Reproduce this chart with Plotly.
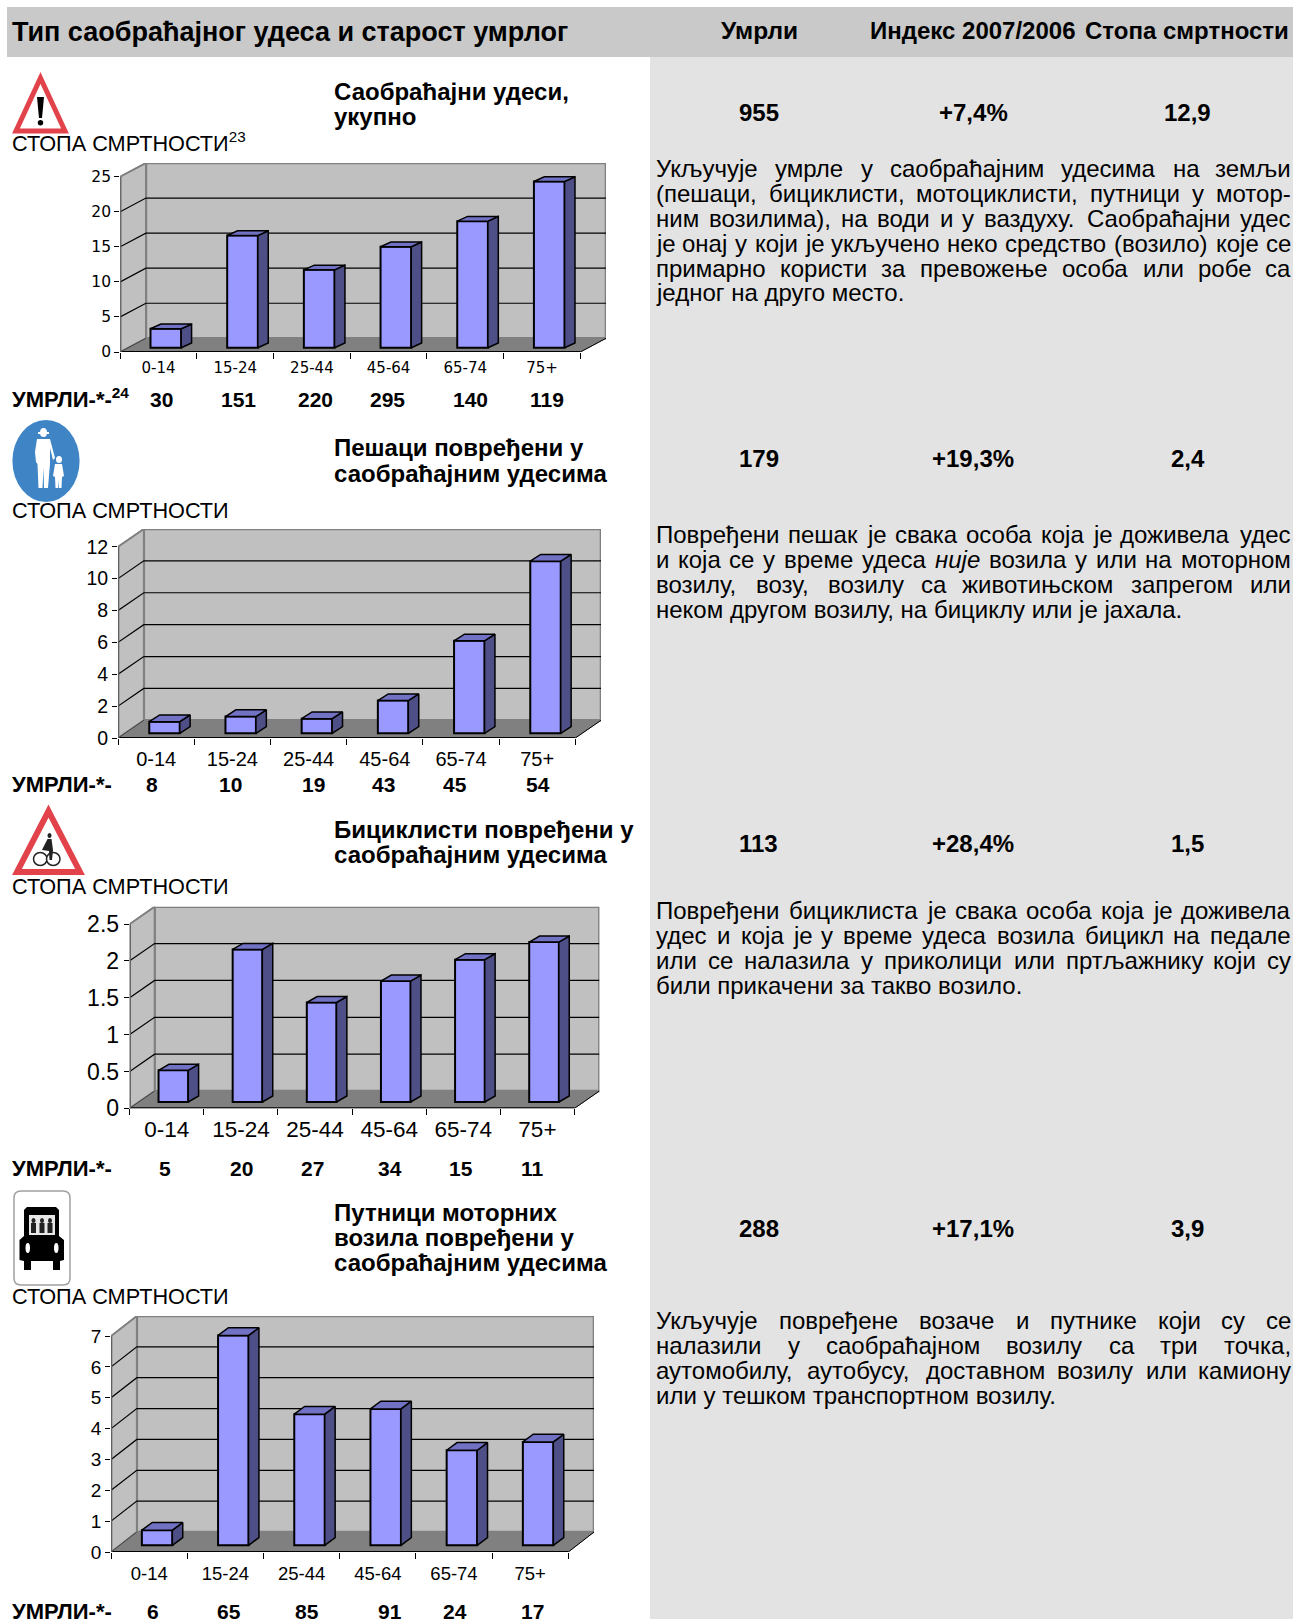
import plotly.graph_objects as go

W, H = 1293, 1619
FONT = "Liberation Sans"

AGE_GROUPS = ["0-14", "15-24", "25-44", "45-64", "65-74", "75+"]

RATE_TOTAL = [2.7, 16.0, 11.1, 14.4, 18.05, 23.7]
RATE_PEDESTRIANS = [0.73, 1.05, 0.92, 2.05, 5.8, 10.8]
RATE_CYCLISTS = [0.43, 2.07, 1.35, 1.64, 1.93, 2.17]
RATE_PASSENGERS = [0.49, 6.8, 4.25, 4.42, 3.08, 3.35]

DEATHS_TOTAL = ["30", "151", "220", "295", "140", "119"]
DEATHS_PEDESTRIANS = ["8", "10", "19", "43", "45", "54"]
DEATHS_CYCLISTS = ["5", "20", "27", "34", "15", "11"]
DEATHS_PASSENGERS = ["6", "65", "85", "91", "24", "17"]

TICKS_TOTAL = [0, 5, 10, 15, 20, 25]
TICKS_PEDESTRIANS = [0, 2, 4, 6, 8, 10, 12]
TICKS_CYCLISTS = [0, 0.5, 1, 1.5, 2, 2.5]
TICKS_PASSENGERS = [0, 1, 2, 3, 4, 5, 6, 7]

TICKTEXT_CYCLISTS = ["0", "0.5", "1", "1.5", "2", "2.5"]

SUMMARY_DEATHS = ["955", "179", "113", "288"]
SUMMARY_INDEX = ["+7,4%", "+19,3%", "+28,4%", "+17,1%"]
SUMMARY_RATE = ["12,9", "2,4", "1,5", "3,9"]

SECTION_TITLES = [
    ["Саобраћајни удеси,", "укупно"],
    ["Пешаци повређени у", "саобраћајним удесима"],
    ["Бициклисти повређени у", "саобраћајним удесима"],
    ["Путници моторних", "возила повређени у", "саобраћајним удесима"],
]

BODY_TEXT = [
    ["Укључује умрле у саобраћајним удесима на земљи",
     "(пешаци, бициклисти, мотоциклисти, путници у мотор-",
     "ним возилима), на води и у ваздуху. Саобраћајни удес",
     "је онај у који је укључено неко средство (возило) које се",
     "примарно користи за превожење особа или робе са",
     "једног на друго место."],
    ["Повређени пешак је свака особа која је доживела удес",
     "и која се у време удеса <i>није</i> возила у или на моторном",
     "возилу, возу, возилу са животињском запрегом или",
     "неком другом возилу, на бициклу или је јахала."],
    ["Повређени бициклиста је свака особа која је доживела",
     "удес и која је у време удеса возила бицикл на педале",
     "или се налазила у приколици или пртљажнику који су",
     "били прикачени за такво возило."],
    ["Укључује повређене возаче и путнике који су се",
     "налазили у саобраћајном возилу са три точка,",
     "аутомобилу, аутобусу, доставном возилу или камиону",
     "или у тешком транспортном возилу."],
]

# ---- layout of the page, in pixels -----------------------------------------
CHARTS = [
    dict(rates=RATE_TOTAL, ticks=TICKS_TOTAL, ticktext=None, ymax=25,
         L=120.2, R=580.3, y0=352, ytop=176.7, dx=25.7, dy=13.7,
         bdx=7.3, bdy=4.3, sdx=10.4, sdy=4.7,
         xfont=("DejaVu Sans", 15), yfont=("DejaVu Sans", 15.5), standoff=5),
    dict(rates=RATE_PEDESTRIANS, ticks=TICKS_PEDESTRIANS, ticktext=None, ymax=12,
         L=118.1, R=575.3, y0=738, ytop=546.7, dx=25.7, dy=17.7,
         bdx=8.3, bdy=4.7, sdx=10.4, sdy=6.7,
         xfont=(FONT, 20), yfont=(FONT, 19.5), standoff=7),
    dict(rates=RATE_CYCLISTS, ticks=TICKS_CYCLISTS, ticktext=TICKTEXT_CYCLISTS, ymax=2.5,
         L=129.7, R=574.5, y0=1108.3, ytop=924, dx=24.9, dy=17.3,
         bdx=6.6, bdy=6.3, sdx=10.4, sdy=6.0,
         xfont=(FONT, 22.5), yfont=(FONT, 23), standoff=5),
    dict(rates=RATE_PASSENGERS, ticks=TICKS_PASSENGERS, ticktext=None, ymax=7,
         L=111.1, R=568.3, y0=1552, ytop=1336, dx=25.7, dy=20,
         bdx=7.9, bdy=6.7, sdx=10.4, sdy=7.7,
         xfont=(FONT, 18.5), yfont=(FONT, 19), standoff=8),
]

ROWS = [
    dict(title_y=[92, 117], rate_y=141.5,
         body_y=168, summary_y=112.5, deaths_y=399.6, deaths=DEATHS_TOTAL,
         deaths_x=[161, 238, 315, 387, 470, 547]),
    dict(title_y=[448, 473], rate_y=510,
         body_y=534.5, summary_y=458.5, deaths_y=784.5, deaths=DEATHS_PEDESTRIANS,
         deaths_x=[152, 230, 313, 383, 455, 538]),
    dict(title_y=[829, 854], rate_y=886,
         body_y=910.5, summary_y=843.7, deaths_y=1168, deaths=DEATHS_CYCLISTS,
         deaths_x=[164.6, 241, 312, 390, 461, 532]),
    dict(title_y=[1212, 1237, 1262], rate_y=1296,
         body_y=1320.5, summary_y=1228, deaths_y=1611, deaths=DEATHS_PASSENGERS,
         deaths_x=[152.5, 229, 307, 390, 455, 532]),
]

C_FRONT, C_SIDE, C_TOP = "#9999FF", "#4F4F88", "#7272C4"
C_WALL, C_FLOOR, C_EDGE = "#C0C0C0", "#808080", "#808080"
BODY_SIZE = 24
BAR_W = 0.40


def px(x):
    return x / W


def py(y):
    return 1 - y / H


def ppath(points, close=True):
    s = "M " + " L ".join(f"{px(x):.5f},{py(y):.5f}" for x, y in points)
    return s + (" Z" if close else "")


shapes, annotations, traces = [], [], []
layout_axes = {}


def paper_rect(x0, y0, x1, y1, color, line=None, lw=0):
    shapes.append(dict(type="rect", xref="paper", yref="paper", x0=px(x0), x1=px(x1),
                       y0=py(y0), y1=py(y1), fillcolor=color, layer="below",
                       line=dict(color=line or color, width=lw)))


def paper_poly(points, fill, line=None, lw=0, layer="below"):
    shapes.append(dict(type="path", xref="paper", yref="paper", path=ppath(points),
                       fillcolor=fill, layer=layer,
                       line=dict(color=line or fill, width=lw)))


def paper_ellipse(x0, y0, x1, y1, fill, line=None, lw=0):
    shapes.append(dict(type="circle", xref="paper", yref="paper", x0=px(x0), x1=px(x1),
                       y0=py(y0), y1=py(y1), fillcolor=fill, layer="below",
                       line=dict(color=line or fill, width=lw)))


def text(x, y, s, size, bold=False, anchor="left", family=FONT):
    annotations.append(dict(
        xref="paper", yref="paper", x=px(x), y=py(y), text=f"<b>{s}</b>" if bold else s,
        showarrow=False, xanchor=anchor, yanchor="middle", borderpad=0, borderwidth=0,
        font=dict(family=family, size=size, color="black"), align=anchor))


# ---- panels ---------------------------------------------------------------
paper_rect(650, 57, W, H, "#E3E3E3")
paper_rect(7, 7, W, 57, "#C9C9C9")

text(12, 32, "Тип саобраћајног удеса и старост умрлог", 27, True)
text(759, 31, "Умрли", 24.5, True, "center")
text(973, 31, "Индекс 2007/2006", 24, True, "center")
text(1187, 31, "Стопа смртности", 24, True, "center")

# ---- justified body text ---------------------------------------------------
WIDTHS = {
    "а": 556, "б": 573, "в": 531, "г": 365, "д": 583, "е": 556, "ж": 669, "з": 458,
    "и": 559, "ј": 222, "к": 438, "л": 583, "љ": 862, "м": 688, "н": 552, "њ": 828,
    "о": 556, "п": 544, "р": 556, "с": 500, "т": 458, "ћ": 556, "у": 500, "ф": 822,
    "х": 500, "ц": 573, "ч": 521, "џ": 544, "ш": 802, "ђ": 556,
    "У": 667, "П": 718, "(": 333, ")": 333, ",": 278, ".": 278, "-": 333, "С": 722,
}


def measure(word, size):
    plain = word.replace("<i>", "").replace("</i>", "")
    return sum(WIDTHS.get(c, 556) for c in plain) * size / 1000


BODY_L, BODY_R = 656, 1291
for row, block in zip(ROWS, BODY_TEXT):
    for k, line in enumerate(block):
        y = row["body_y"] + 25 * k
        words = line.split(" ")
        if k == len(block) - 1:
            text(BODY_L, y, line, BODY_SIZE)
            continue
        total = sum(measure(w, BODY_SIZE) for w in words)
        gap = (BODY_R - BODY_L - total) / (len(words) - 1)
        x = BODY_L
        for j, w in enumerate(words):
            if j == len(words) - 1:
                text(BODY_R, y, w, BODY_SIZE, anchor="right")
            else:
                text(x, y, w, BODY_SIZE)
            x += measure(w, BODY_SIZE) + gap

# ---- rows: titles, summaries, deaths ---------------------------------------
for i, row in enumerate(ROWS):
    for yy, t in zip(row["title_y"], SECTION_TITLES[i]):
        text(334, yy, t, 24, True)
    text(758.7, row["summary_y"], SUMMARY_DEATHS[i], 24, True, "center")
    text(973, row["summary_y"], SUMMARY_INDEX[i], 24, True, "center")
    text(1187.5, row["summary_y"], SUMMARY_RATE[i], 24, True, "center")
    sup = "<sup>23</sup>" if i == 0 else ""
    text(12.4, row["rate_y"], "СТОПА СМРТНОСТИ" + sup, 21.7)
    sup = "<sup>24</sup>" if i == 0 else ""
    text(12.4, row["deaths_y"] - (2 if i == 0 else 0), "УМРЛИ-*-" + sup, 22, True)
    for xx, d in zip(row["deaths_x"], row["deaths"]):
        text(xx, row["deaths_y"], d, 21, True, "center")

# ---- charts ----------------------------------------------------------------
for n, c in enumerate(CHARTS):
    suffix = "" if n == 0 else str(n + 1)
    xid, yid = "x" + suffix, "y" + suffix
    cell = (c["R"] - c["L"]) / 6
    unit = (c["y0"] - c["ytop"]) / c["ymax"]
    D, Dy = c["dx"] / cell, c["dy"] / unit
    bx, by = c["bdx"] / cell, c["bdy"] / unit
    sx, sy = c["sdx"] / cell, c["sdy"] / unit
    x_lo, x_hi = -0.5, 5.5
    ymax = c["ymax"]
    y_hi = ymax + Dy

    def dshape(points, fill=None, color=None, width=0, close=True):
        path = "M " + " L ".join(f"{x:.4f},{y:.4f}" for x, y in points) + (" Z" if close else "")
        d = dict(type="path", xref=xid, yref=yid, path=path, layer="below",
                 line=dict(color=color or "rgba(0,0,0,0)", width=width))
        if fill:
            d["fillcolor"] = fill
        shapes.append(d)

    # walls and floor
    dshape([(x_lo + D, Dy), (x_hi + D, Dy), (x_hi + D, y_hi), (x_lo + D, y_hi)],
           C_WALL, C_EDGE, 2.6)
    dshape([(x_lo, 0), (x_lo + D, Dy), (x_lo + D, y_hi), (x_lo, ymax)], C_WALL, C_EDGE, 1.8)
    dshape([(x_lo, 0), (x_lo + D, Dy), (x_hi + D, Dy), (x_hi, 0)], C_FLOOR, C_FLOOR, 1)
    for t in c["ticks"][1:-1]:
        dshape([(x_lo, t), (x_lo + D, t + Dy), (x_hi + D, t + Dy)], None, "#000000", 1.2, False)
    dshape([(x_lo, 0), (x_hi, 0)], None, "#000000", 2, False)
    dshape([(x_hi, 0), (x_hi + D, Dy)], None, "#000000", 1, False)
    dshape([(x_lo, 0), (x_lo + D, Dy)], None, "#404040", 1, False)
    dshape([(x_lo, 0), (x_lo, ymax)], None, "#606060", 2.4, False)
    dshape([(x_lo, ymax), (x_lo + D, y_hi)], None, C_EDGE, 1.5, False)

    # front faces
    traces.append(go.Bar(
        x=[i + bx for i in range(6)], y=c["rates"], base=by, width=BAR_W,
        marker=dict(color=C_FRONT, line=dict(color="black", width=2)),
        xaxis=xid, yaxis=yid, showlegend=False, hoverinfo="skip"))

    # side and top faces follow the same values
    sx_pts, sy_pts, tx_pts, ty_pts = [], [], [], []
    for i, v in enumerate(c["rates"]):
        xl, xr = i + bx - BAR_W / 2, i + bx + BAR_W / 2
        sx_pts += [xr, xr + sx, xr + sx, xr, xr, None]
        sy_pts += [by, by + sy, by + v + sy, by + v, by, None]
        tx_pts += [xl, xl + sx, xr + sx, xr, xl, None]
        ty_pts += [by + v, by + v + sy, by + v + sy, by + v, by + v, None]
    traces.append(go.Scatter(x=sx_pts, y=sy_pts, mode="lines", fill="toself", fillcolor=C_SIDE,
                             line=dict(color="black", width=1.5), xaxis=xid, yaxis=yid,
                             showlegend=False, hoverinfo="skip"))
    traces.append(go.Scatter(x=tx_pts, y=ty_pts, mode="lines", fill="toself", fillcolor=C_TOP,
                             line=dict(color="black", width=1.5), xaxis=xid, yaxis=yid,
                             showlegend=False, hoverinfo="skip"))

    layout_axes["xaxis" + suffix] = dict(
        domain=[px(c["L"]), px(c["R"] + c["dx"])], range=[x_lo, x_hi + D], anchor=yid,
        tickmode="array", tickvals=list(range(6)), ticktext=AGE_GROUPS, ticks="",
        ticklabelstandoff=c["standoff"], showgrid=False, zeroline=False, showline=False,
        tickfont=dict(family=c["xfont"][0], size=c["xfont"][1], color="black"),
        minor=dict(tickmode="array", tickvals=[x_lo + k for k in range(7)], ticks="outside",
                   ticklen=6, tickwidth=1, tickcolor="black", showgrid=False),
        fixedrange=True)
    layout_axes["yaxis" + suffix] = dict(
        domain=[py(c["y0"]), py(c["ytop"] - c["dy"])], range=[0, y_hi], anchor=xid,
        tickmode="array", tickvals=c["ticks"],
        ticktext=c["ticktext"] or [str(t) for t in c["ticks"]], ticks="outside", ticklen=5,
        tickwidth=1, tickcolor="black", showgrid=False, zeroline=False, showline=False,
        tickfont=dict(family=c["yfont"][0], size=c["yfont"][1], color="black"),
        fixedrange=True)

# ---- sign icons ------------------------------------------------------------
RED = "#E2434B"
# general danger sign
paper_poly([(40.5, 78), (65, 131), (16, 131)], "white", RED, 5)
paper_poly([(37, 97), (44, 97), (42, 118), (39, 118)], "black")
paper_ellipse(37.8, 120, 43.2, 125.5, "black")
# pedestrian sign
paper_ellipse(12.4, 420, 79.6, 502, "#3F85C6")
paper_ellipse(40, 428, 47, 437, "white")
paper_poly([(38, 432), (49, 432), (49, 434), (38, 434)], "white")
paper_poly([(37, 439), (50, 439), (55, 458), (53, 460), (50, 448), (50, 464), (48, 488),
            (44, 488), (43.5, 468), (42.5, 488), (38.5, 488), (37.5, 464), (36, 462), (35, 452)],
           "white")
paper_ellipse(56, 456, 62, 463, "white")
paper_poly([(55, 464), (62, 464), (64, 476), (62, 477), (61.5, 488), (58.8, 488), (58.5, 480),
            (58, 488), (55.5, 488), (55, 477), (53, 476)], "white")
# cyclist sign
paper_poly([(48.5, 811), (80, 872), (17, 872)], "white", RED, 6)
paper_ellipse(33.5, 852.5, 47, 865.5, "white", "#222222", 1.5)
paper_ellipse(46.5, 852.5, 60, 865.5, "white", "#222222", 1.5)
paper_poly([(47.5, 839), (51.5, 839), (53, 850), (52, 860), (49.5, 860), (49, 851), (42, 850)],
           "#222222")
paper_ellipse(47.5, 833, 51.5, 838, "#222222")
# vehicle passengers sign
r = 7
shapes.append(dict(type="path", xref="paper", yref="paper", layer="below", fillcolor="white",
                   line=dict(color="#A0A0A0", width=1.5),
                   path=(f"M {px(14 + r)},{py(1191)} L {px(70 - r)},{py(1191)} "
                         f"Q {px(70)},{py(1191)} {px(70)},{py(1191 + r)} L {px(70)},{py(1285 - r)} "
                         f"Q {px(70)},{py(1285)} {px(70 - r)},{py(1285)} L {px(14 + r)},{py(1285)} "
                         f"Q {px(14)},{py(1285)} {px(14)},{py(1285 - r)} L {px(14)},{py(1191 + r)} "
                         f"Q {px(14)},{py(1191)} {px(14 + r)},{py(1191)} Z")))
paper_poly([(24, 1210), (27, 1207), (56, 1207), (59, 1210), (59, 1236), (64, 1240), (64, 1260),
            (60, 1261), (60, 1270), (53, 1270), (53, 1261), (31, 1261), (31, 1270), (24, 1270),
            (24, 1261), (19.5, 1260), (19.5, 1240), (24, 1236)], "black")
paper_rect(29, 1215, 55, 1235, "#E8E8E8")
for cx in (33.5, 42, 50):
    paper_ellipse(cx - 2, 1218, cx + 2, 1223, "#222222")
    paper_rect(cx - 2.5, 1223, cx + 2.5, 1233, "#222222")
paper_ellipse(25.5, 1243, 30, 1253, "white")
paper_ellipse(54, 1243, 58.5, 1253, "white")

fig = go.Figure(traces)
fig.update_layout(
    width=W, height=H, margin=dict(l=0, r=0, t=0, b=0, autoexpand=False), autosize=False,
    paper_bgcolor="white", plot_bgcolor="rgba(0,0,0,0)", showlegend=False,
    barmode="overlay", shapes=shapes, annotations=annotations,
    font=dict(family=FONT, color="black"), **layout_axes)
fig.write_html("out.html", config=dict(displayModeBar=False),
               post_script="document.body.style.margin='0';document.documentElement.style.overflow='hidden';")
